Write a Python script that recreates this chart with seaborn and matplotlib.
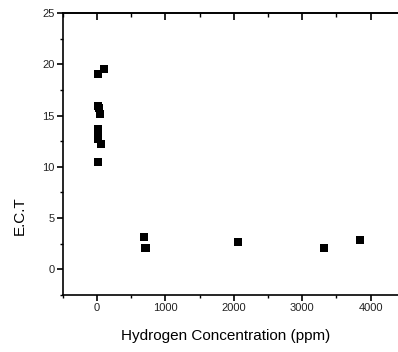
import numpy as np
import pandas as pd
import matplotlib
matplotlib.use("Agg")
import matplotlib.pyplot as plt
from matplotlib.ticker import MultipleLocator
import seaborn as sns

# data
h2_ppm = [19, 107, 20, 22, 44, 20, 20, 20, 20, 54, 20,
          686, 700, 715, 2063, 3318, 3844]
ect = [19.1, 19.5, 15.9, 15.7, 15.2, 13.7, 13.4, 13.1, 12.7, 12.25, 10.5,
       3.2, 2.05, 2.05, 2.65, 2.05, 2.85]

df = pd.DataFrame({"ppm": h2_ppm, "ect": ect})

sns.set_style("ticks", {"axes.edgecolor": "black", "xtick.color": "black",
                        "ytick.color": "black", "text.color": "black",
                        "axes.labelcolor": "black"})
plt.rcParams["font.family"] = ["Liberation Sans", "DejaVu Sans"]

fig = plt.figure(figsize=(3.98, 3.52), dpi=100)
ax = fig.add_axes([0.158, 0.162, 0.859, 0.801])

sns.scatterplot(data=df, x="ppm", y="ect", marker="s", s=36, color="black",
                linewidth=0, ax=ax, legend=False)

ax.set_xlim(-500, 4500)
ax.set_ylim(-2.5, 25)
ax.xaxis.set_major_locator(MultipleLocator(1000))
ax.xaxis.set_minor_locator(MultipleLocator(500))
ax.yaxis.set_major_locator(MultipleLocator(5))
ax.yaxis.set_minor_locator(MultipleLocator(2.5))

for sp in ax.spines.values():
    sp.set_linewidth(1.2)

ax.tick_params(axis="both", which="major", labelsize=8, width=1.2, length=4,
               direction="out", pad=2, labelcolor="#222222")
ax.tick_params(axis="both", which="minor", width=1.0, length=2, direction="out")
ax.tick_params(axis="x", which="both", top=False)

# top ticks point inwards
sec = ax.secondary_xaxis("top")
sec.xaxis.set_major_locator(MultipleLocator(1000))
sec.xaxis.set_minor_locator(MultipleLocator(500))
sec.tick_params(which="major", direction="in", length=5, width=1.2, labeltop=False)
sec.tick_params(which="minor", direction="in", length=3, width=1.0)
sec.spines["top"].set_linewidth(1.2)

ax.set_xlabel("Hydrogen Concentration (ppm)", fontsize=11)
ax.set_ylabel("E.C.T", fontsize=11)
ax.xaxis.set_label_coords(0.477, -0.122)
ax.yaxis.set_label_coords(-0.105, 0.28)

fig.savefig("out.png", dpi=100)
